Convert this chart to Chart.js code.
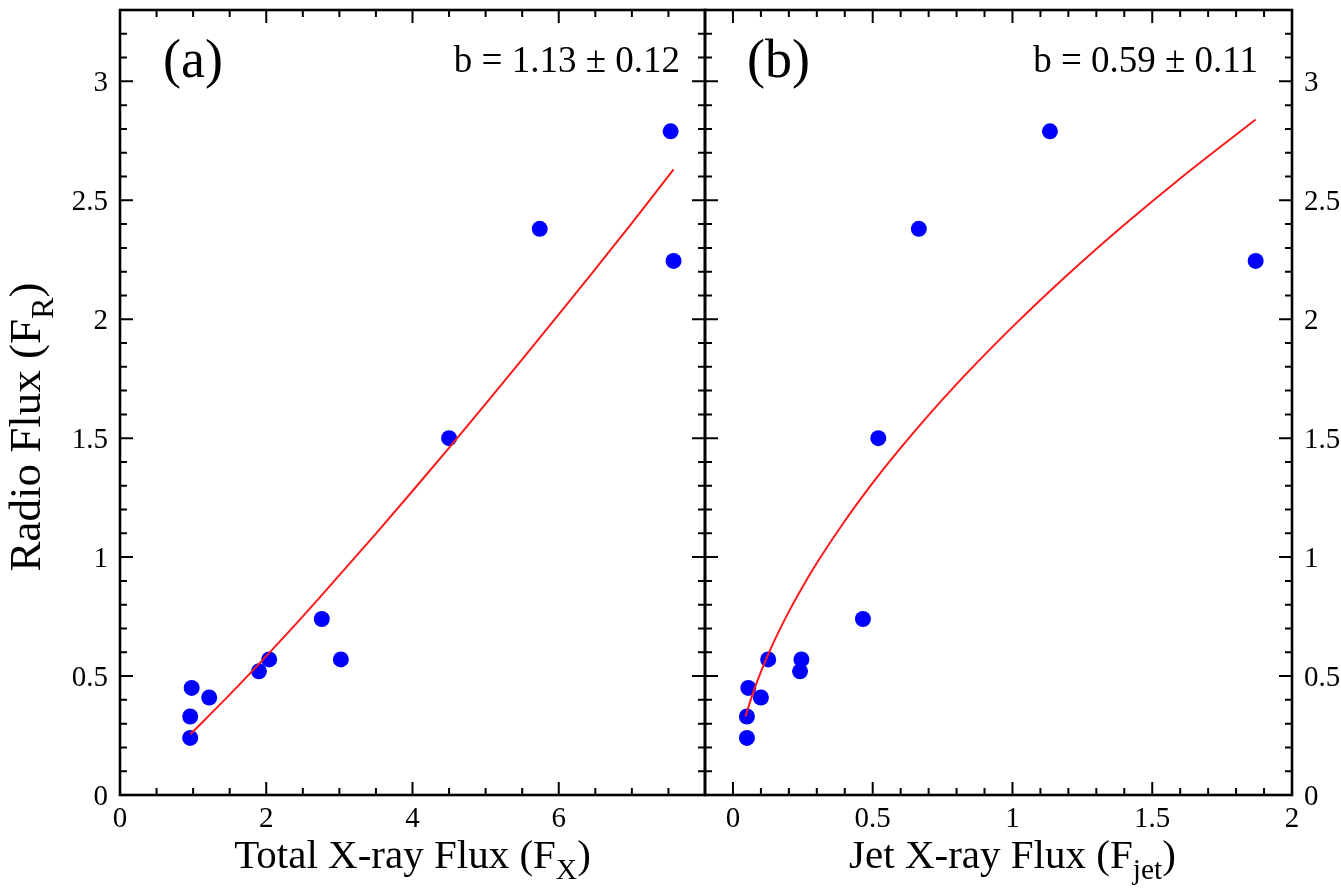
<!DOCTYPE html>
<html>
<head>
<meta charset="utf-8">
<script src="https://cdn.jsdelivr.net/npm/chart.js@4.4.1/dist/chart.umd.min.js"></script>
<style>
    body { margin: 0; background: #fff; }
    #wrap { position: relative; width: 1341px; height: 892px; }
    canvas { position: absolute; left: 0; top: 0; }
</style>
</head>
<body>
<div id="wrap">
    <canvas id="panelA" width="1341" height="892"></canvas>
    <canvas id="panelB" width="1341" height="892"></canvas>
</div>
<script>
// datos
const radioFlux = [0.24, 0.33, 0.45, 0.41, 0.52, 0.57, 0.57, 0.74, 1.50, 2.38, 2.79, 2.245]
const totalFlux = [0.96, 0.96, 0.98, 1.22, 1.90, 2.04, 3.02, 2.76, 4.50, 5.74, 7.53, 7.57]
const jetFlux = [0.05, 0.05, 0.055, 0.10, 0.24, 0.126, 0.245, 0.465, 0.52, 0.665, 1.134, 1.87]

// curvas de ajuste (leidas sobre la linea roja)
const fitTotalX = [0.96, 1.5, 2, 2.5, 3, 3.5, 4, 4.5, 5, 5.5, 6, 6.5, 7, 7.57]
const fitTotalY = [0.255, 0.422, 0.584, 0.751, 0.924, 1.099, 1.278, 1.459, 1.644, 1.831, 2.020, 2.211, 2.404, 2.63]
const fitJetX = [0.045, 0.07, 0.1, 0.15, 0.2, 0.25, 0.3, 0.4, 0.5, 0.6, 0.7, 0.8, 0.9, 1.0, 1.2, 1.4, 1.6, 1.87]
const fitJetY = [0.33, 0.423, 0.518, 0.653, 0.771, 0.877, 0.975, 1.152, 1.312, 1.459, 1.597, 1.727, 1.850, 1.968, 2.19, 2.397, 2.592, 2.84]

const yTicks = [0, 0.5, 1, 1.5, 2, 2.5, 3]
const xTicksTotal = [0, 2, 4, 6]
const xTicksJet = [0, 0.5, 1, 1.5, 2]

const FONT = '"Liberation Serif", "Times New Roman", serif'

const isMajor = (v, step) => Math.abs(v / step - Math.round(v / step)) < 1e-6

const drawSubText = (ctx, main, sub, tail, size, cx, cy) => {
    ctx.font = `${size}px ${FONT}`
    const w1 = ctx.measureText(main).width
    const w3 = ctx.measureText(tail).width
    ctx.font = `${size * 0.72}px ${FONT}`
    const w2 = ctx.measureText(sub).width
    let x = cx - (w1 + w2 + w3) / 2
    ctx.textAlign = 'left'
    ctx.textBaseline = 'alphabetic'
    ctx.font = `${size}px ${FONT}`
    ctx.fillText(main, x, cy)
    x += w1
    ctx.font = `${size * 0.72}px ${FONT}`
    ctx.fillText(sub, x, cy + size * 0.28)
    x += w2
    ctx.font = `${size}px ${FONT}`
    ctx.fillText(tail, x, cy)
}

const axisDecor = {
    id: 'axisDecor',
    afterDatasetsDraw(chart, args, o) {
        const { ctx, chartArea: a } = chart
        const sx = chart.scales.x
        const sy = chart.scales.y
        ctx.save()
        ctx.strokeStyle = '#000'
        ctx.fillStyle = '#000'
        ctx.lineWidth = 2
        ctx.beginPath()
        const nx = Math.round((o.xMax - o.xFrom) / o.xMinor)
        for (let i = 0; i <= nx; i++) {
            const v = o.xFrom + i * o.xMinor
            const px = sx.getPixelForValue(v)
            if (px <= a.left + 1 || px >= a.right - 1) continue
            const len = isMajor(v, o.xMajor) ? 13 : 7
            ctx.moveTo(px, a.bottom); ctx.lineTo(px, a.bottom - len)
            ctx.moveTo(px, a.top); ctx.lineTo(px, a.top + len)
        }
        const ny = Math.round(3.3 / 0.1)
        for (let i = 1; i < ny; i++) {
            const v = i * 0.1
            const py = sy.getPixelForValue(v)
            const len = isMajor(v, 0.5) ? 13 : 7
            ctx.moveTo(a.left, py); ctx.lineTo(a.left + len, py)
            ctx.moveTo(a.right, py); ctx.lineTo(a.right - len, py)
        }
        ctx.stroke()
        ctx.lineWidth = 2.6
        ctx.strokeRect(a.left, a.top, a.right - a.left, a.bottom - a.top)

        // etiquetas de los ticks
        ctx.font = `29px ${FONT}`
        ctx.textBaseline = 'alphabetic'
        ctx.textAlign = 'center'
        o.xLabels.forEach(v => {
            ctx.fillText(String(v), sx.getPixelForValue(v), a.bottom + 32)
        })
        ctx.textAlign = o.ySide === 'left' ? 'right' : 'left'
        yTicks.forEach(v => {
            const px = o.ySide === 'left' ? a.left - 12 : a.right + 12
            ctx.fillText(String(v), px, sy.getPixelForValue(v) + 10)
        })

        // titulo del eje x
        drawSubText(ctx, o.xTitle[0], o.xTitle[1], ')', 41, sx.getPixelForValue(o.xTitleAt), 868)

        // titulo del eje y
        if (o.yTitle) {
            ctx.save()
            ctx.translate(40, 427)
            ctx.rotate(-Math.PI / 2)
            drawSubText(ctx, o.yTitle[0], o.yTitle[1], ')', 45, 0, 0)
            ctx.restore()
        }

        // letras del panel y pendiente
        ctx.textAlign = 'left'
        ctx.font = `54px ${FONT}`
        ctx.fillText(o.panel, o.panelX, 77)
        ctx.textAlign = 'right'
        ctx.font = `37px ${FONT}`
        ctx.fillText(o.slope, o.slopeX, 72)
        ctx.restore()
    }
}

const makeChart = (id, xs, fitX, fitY, xMin, xMax, pad, deco) => {
    return new Chart(document.getElementById(id), {
        type: 'scatter',
        data: {
            datasets: [{
                data: fitX.map((x, i) => ({ x: x, y: fitY[i] })),
                showLine: true,
                borderColor: '#ff1a1a',
                borderWidth: 2,
                pointRadius: 0,
                cubicInterpolationMode: 'monotone'
            }, {
                data: xs.map((x, i) => ({ x: x, y: radioFlux[i] })),
                backgroundColor: '#0000ff',
                borderWidth: 0,
                pointRadius: 8
            }]
        },
        options: {
            responsive: false,
            animation: false,
            layout: { padding: pad },
            scales: {
                x: { type: 'linear', min: xMin, max: xMax, display: false },
                y: { type: 'linear', min: 0, max: 3.3, display: false }
            },
            plugins: {
                legend: { display: false },
                tooltip: { enabled: false },
                axisDecor: deco
            }
        },
        plugins: [axisDecor]
    })
}

makeChart('panelA', totalFlux, fitTotalX, fitTotalY, 0, 8,
    { left: 120, right: 636, top: 10, bottom: 97 },
    {
        xFrom: 0, xMax: 8, xMinor: 0.5, xMajor: 2, xLabels: xTicksTotal,
        ySide: 'left', xTitle: ['Total X-ray Flux (F', 'X'], xTitleAt: 4,
        yTitle: ['Radio Flux (F', 'R'],
        panel: '(a)', panelX: 163, slope: 'b = 1.13 \u00b1 0.12', slopeX: 680
    })

makeChart('panelB', jetFlux, fitJetX, fitJetY, -0.1, 2,
    { left: 705, right: 49, top: 10, bottom: 97 },
    {
        xFrom: 0, xMax: 2, xMinor: 0.1, xMajor: 0.5, xLabels: xTicksJet,
        ySide: 'right', xTitle: ['Jet X-ray Flux (F', 'jet'], xTitleAt: 1,
        yTitle: null,
        panel: '(b)', panelX: 747, slope: 'b = 0.59 \u00b1 0.11', slopeX: 1258
    })
</script>
</body>
</html>
